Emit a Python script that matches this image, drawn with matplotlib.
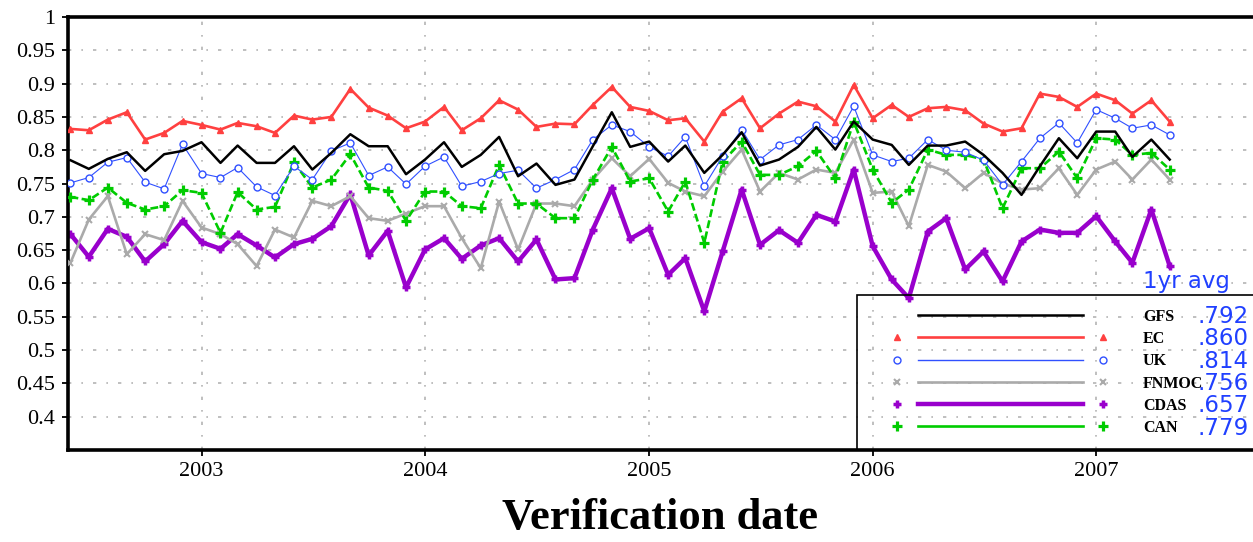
import numpy as np
import pandas as pd
import matplotlib
matplotlib.use('Agg')
import matplotlib.pyplot as plt
from matplotlib.patches import Rectangle

# monthly verification, Jun 2002 .. May 2007
dates = pd.date_range('2002-06-01', periods=60, freq='MS')

gfs = [.785, .772, .787, .797, .769, .794, .799, .812, .781, .807, .781, .781, .806, .771, .796, .824, .806, .806, .764,
       .786, .812, .775, .793, .820, .761, .780, .748, .756, .806, .857, .805, .813, .783, .807, .766, .793, .827, .777, .786, .805,
       .835, .801, .843, .816, .808, .778, .807, .807, .813, .793, .766, .733, .776, .818, .788, .828, .828, .790, .816, .786]
ec = [.832, .830, .846, .857, .816, .826, .844, .838, .831, .841, .836, .826, .852, .846, .850, .892, .864, .852, .833,
      .843, .865, .830, .848, .875, .861, .835, .840, .839, .868, .895, .865, .859, .845, .848, .813, .858, .878, .833, .855, .873,
      .866, .843, .898, .848, .868, .850, .863, .865, .860, .840, .828, .833, .885, .880, .865, .885, .875, .855, .875, .843]
uk = [.751, .759, .782, .789, .752, .742, .809, .765, .759, .774, .745, .732, .776, .756, .799, .811, .762, .775, .749,
      .776, .790, .746, .753, .765, .770, .743, .756, .771, .816, .838, .828, .805, .791, .820, .746, .791, .831, .786, .808, .816,
      .838, .816, .866, .793, .783, .788, .816, .800, .797, .785, .748, .783, .818, .841, .811, .861, .848, .833, .838, .823]
fnmoc = [.631, .696, .731, .644, .674, .665, .724, .684, .674, .659, .626, .681, .669, .724, .716, .731, .698, .694, .705,
         .716, .716, .668, .623, .723, .651, .720, .720, .716, .756, .788, .761, .787, .751, .738, .731, .768, .801, .738, .766, .756,
         .771, .766, .816, .736, .738, .686, .778, .768, .743, .766, .750, .741, .743, .773, .733, .771, .783, .756, .786, .756]
cdas = [.674, .640, .682, .670, .633, .659, .694, .662, .652, .674, .657, .639, .659, .667, .686, .734, .642, .679, .594,
        .651, .668, .637, .657, .668, .633, .666, .606, .608, .681, .743, .667, .683, .613, .638, .558, .648, .741, .658, .680, .661,
        .703, .693, .771, .656, .606, .578, .678, .698, .621, .648, .603, .663, .681, .676, .676, .701, .663, .631, .711, .626]
can = [.730, .725, .744, .721, .711, .716, .740, .736, .676, .737, .711, .715, .782, .744, .756, .794, .744, .739, .694,
       .738, .738, .716, .713, .778, .720, .720, .698, .698, .756, .805, .753, .758, .708, .753, .661, .783, .813, .763, .763, .776,
       .799, .758, .843, .771, .721, .741, .801, .793, .793, .786, .713, .773, .773, .798, .758, .818, .816, .793, .796, .771]

names = ['GFS', 'EC', 'UK', 'FNMOC', 'CDAS', 'CAN']
avg_1yr = ['.792', '.860', '.814', '.756', '.657', '.779']
years = [2003, 2004, 2005, 2006, 2007]

series = [gfs, ec, uk, fnmoc, cdas, can]
styles = [
    dict(color='black', lw=1.8, marker=None, ls='-', z=8),
    dict(color='#ff4040', lw=1.9, marker='^', ms=5, mfc='#ff4040', mew=1, ls='-', z=7),
    dict(color='#3050ff', lw=0.8, marker='o', ms=5, mfc='white', mew=1, ls='-', z=6),
    dict(color='#aaaaaa', lw=1.9, marker='x', ms=5, mfc='#aaaaaa', mew=1.5, ls='-', z=3),
    dict(color='#9900cc', lw=3.2, marker='+', ms=5.5, mfc='#9900cc', mew=2.5, ls='-', z=2),
    dict(color='#00cc00', lw=1.9, marker='+', ms=6.5, mfc='#00cc00', mew=2.3, ls=(0, (3, 1.3)), z=5),
]

plt.rcParams['font.family'] = ['Liberation Serif', 'DejaVu Serif']

fig = plt.figure(figsize=(12.53, 5.42), dpi=100)
ax = fig.add_axes([68 / 1253, 92 / 542, 1185 / 1253, 433 / 542])

for vals, st in zip(series, styles):
    ax.plot(dates, vals, color=st['color'], lw=st['lw'], ls=st['ls'],
            marker=st['marker'], ms=st.get('ms', 0), mfc=st.get('mfc'),
            mec=st['color'], mew=st.get('mew', 1), zorder=st['z'])

ax.set_xlim(pd.Timestamp('2002-05-28'), pd.Timestamp('2007-09-14'))
ax.set_ylim(0.35, 1.0)

yt = np.round(np.arange(0.4, 1.0001, 0.05), 2)
ax.set_yticks(yt)
ax.set_yticklabels(['%g' % v for v in yt], fontsize=16)
xt = [pd.Timestamp('%d-01-01' % y) for y in years]
ax.set_xticks(xt)
ax.set_xticklabels([str(y) for y in years], fontsize=16)
ax.tick_params(axis='both', direction='out', length=4, width=1.3, pad=5)

ax.grid(True, color='#b4b4b4', lw=1.2, ls=(0, (2, 6, 1, 6)), zorder=0)
ax.set_axisbelow(True)

for s in ['left', 'bottom', 'top']:
    ax.spines[s].set_linewidth(2.6)
ax.spines['right'].set_visible(False)

ax.set_xlabel('Verification date', fontsize=32, fontweight='bold', labelpad=12)

# legend box, drawn by hand like the original
tr = ax.transAxes
ax.add_patch(Rectangle((0.666, 0.0), 0.4, 0.358, transform=tr, fill=False,
                       ec='black', lw=1.2, clip_on=False, zorder=9))
ax.text(0.907, 0.374, '1yr avg', transform=tr, color='#2040ff', fontsize=16.5,
        family='DejaVu Sans', va='baseline', ha='left')
for k, (nm, av, st) in enumerate(zip(names, avg_1yr, styles)):
    y = 0.312 - k * 0.0515
    ax.plot([0.7173, 0.8565], [y, y], transform=tr, color=st['color'],
            lw=st['lw'] if k != 2 else 1.0, clip_on=False, zorder=10)
    if st['marker']:
        ax.plot([0.6996, 0.8734], [y, y], transform=tr, ls='none', marker=st['marker'],
                ms=st['ms'], mfc=st['mfc'], mec=st['color'], mew=st['mew'],
                clip_on=False, zorder=10)
    ax.text(0.907, y - 0.004, nm, transform=tr, fontsize=11.5, fontweight='bold',
            va='center', ha='left')
    ax.text(0.953, y - 0.004, av, transform=tr, color='#2040ff', fontsize=16.5,
            family='DejaVu Sans', va='center', ha='left')

plt.savefig('out.png', dpi=100)
plt.close()
